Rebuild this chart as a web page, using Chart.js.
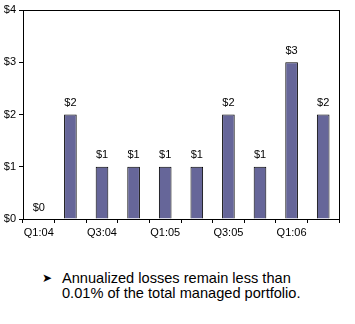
<!DOCTYPE html>
<html>
<head>
<meta charset="utf-8">
<script src="https://cdn.jsdelivr.net/npm/chart.js@4/dist/chart.umd.min.js"></script>
<style>
  body { margin: 0; background: #fff; font-family: "Liberation Sans", Arial, sans-serif; }
  #wrap { position: relative; width: 355px; height: 240px; }
  #note { position: absolute; left: 42px; top: 271px; font-size: 14.6px; line-height: 15px; color: #000; }
  #note .arrow { position: absolute; left: 0; top: 0; font-family: "DejaVu Sans", sans-serif; font-size: 12px; }
  #note .txt { position: absolute; left: 20px; top: 0; white-space: nowrap; }
</style>
</head>
<body>
<div id="wrap"><canvas id="lossChart"></canvas></div>
<div id="note"><span class="arrow">&#10148;</span><span class="txt">Annualized losses remain less than<br>0.01% of the total managed portfolio.</span></div>
<script>
const quarters = ['Q1:04', 'Q2:04', 'Q3:04', 'Q4:04', 'Q1:05', 'Q2:05', 'Q3:05', 'Q4:05', 'Q1:06', 'Q2:06'];
const losses = [0, 2, 1, 1, 1, 1, 2, 1, 3, 2];
const yTicks = [0, 1, 2, 3, 4];

// value labels above each bar + the box round the plot area
const barLabels = {
  id: 'barLabels',
  afterDatasetsDraw(chart) {
    const ctx = chart.ctx;
    const meta = chart.getDatasetMeta(0);
    ctx.save();
    ctx.font = '11px "Liberation Sans", Arial, sans-serif';
    ctx.fillStyle = '#000';
    ctx.textAlign = 'center';
    ctx.textBaseline = 'bottom';
    meta.data.forEach((bar, i) => {
      ctx.fillText('$' + losses[i], bar.x, bar.y - 6);
    });
    const a = chart.chartArea;
    ctx.strokeStyle = '#000';
    ctx.lineWidth = 1;
    ctx.strokeRect(a.left + 0.5, a.top + 0.5, a.right - a.left, a.bottom - a.top);
    ctx.restore();
  }
};

const ctx = document.getElementById('lossChart').getContext('2d');
new Chart(ctx, {
  type: 'bar',
  data: {
    labels: quarters,
    datasets: [{
      data: losses,
      backgroundColor: '#666699',
      borderColor: '#000',
      borderWidth: 1,
      barPercentage: 0.8,
      categoryPercentage: 0.5
    }]
  },
  options: {
    responsive: true,
    maintainAspectRatio: false,
    animation: false,
    layout: { padding: { top: 10, right: 16, left: 0, bottom: 0 } },
    plugins: { legend: { display: false }, tooltip: { enabled: false } },
    scales: {
      x: {
        afterFit: s => { s.height = 21; },
        grid: { offset: true, drawOnChartArea: false, tickLength: 4, color: '#000' },
        border: { color: '#000' },
        ticks: {
          autoSkip: false,
          maxRotation: 0,
          padding: 3,
          color: '#000',
          font: { size: 11, family: '"Liberation Sans", Arial, sans-serif' },
          callback: (v, i) => (i % 2 === 0 ? quarters[i] : '')
        }
      },
      y: {
        min: yTicks[0],
        max: yTicks[yTicks.length - 1],
        afterFit: s => { s.width = 23; },
        grid: { drawOnChartArea: false, tickLength: 4, color: '#000' },
        border: { color: '#000' },
        ticks: {
          stepSize: 1,
          padding: 3,
          color: '#000',
          font: { size: 11, family: '"Liberation Sans", Arial, sans-serif' },
          callback: v => '$' + v
        }
      }
    }
  },
  plugins: [barLabels]
});
</script>
</body>
</html>
